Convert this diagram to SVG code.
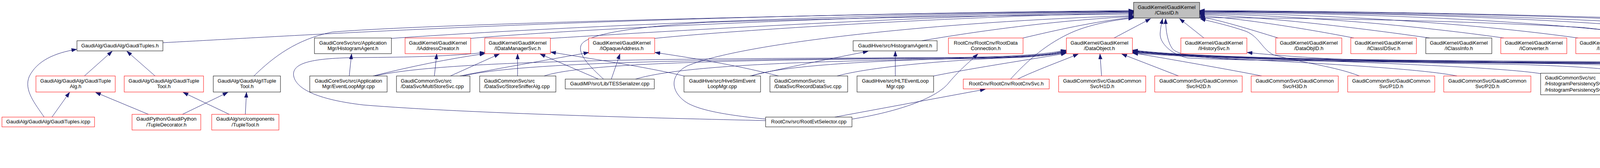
<svg xmlns="http://www.w3.org/2000/svg" width="5440" height="429" viewBox="0 0 5440 429">
<defs>
<marker id="ah" markerUnits="userSpaceOnUse" markerWidth="14" markerHeight="10" refX="13" refY="5" orient="auto"><path d="M0,0.5 L13,5 L0,9.5 Z" fill="#191970" stroke="#191970" stroke-width="1"/></marker>
</defs>
<style>
.e{fill:none;stroke:#191970;stroke-width:1;marker-end:url(#ah)}
.r{fill:#fff;stroke:#ff0000;stroke-width:1}
.k{fill:#fff;stroke:#000;stroke-width:1}
text{font-family:"Liberation Sans",Arial,Helvetica,sans-serif;font-size:13px;fill:#000}
.c{text-anchor:middle}
</style>
<rect width="5440" height="429" fill="#fff"/>
<g id="edges">
<path class="e" d="M417,109 C700,95 1500,40 2902,27"/>
<path class="e" d="M650,194 C700,145 760,100 850,82 C1100,60 2300,32 2902,28"/>
<path class="e" d="M1002,98 C1400,70 2200,34 2902,29"/>
<path class="e" d="M1205,98 C1500,72 2300,36 2902,30"/>
<path class="e" d="M1409,98 C1700,80 2400,38 2902,31"/>
<path class="e" d="M1676,98 C1900,75 2500,40 2902,33"/>
<path class="e" d="M1545,202 C1510,170 1480,140 1487,117 C1495,90 1600,70 1810,57 C2300,42 2700,38 2902,36"/>
<path class="e" d="M1960,304 C1880,296 1790,284 1755,260 C1715,232 1715,190 1760,168 C1900,110 2400,55 2902,40"/>
<path class="e" d="M2360,104 C2500,80 2700,52 2902,42"/>
<path class="e" d="M2619,97 C2700,78 2800,55 2902,44"/>
<path class="e" d="M2587,202 C2630,155 2680,110 2750,80 C2800,60 2860,50 2902,46"/>
<path class="e" d="M3272,97 C3200,75 3120,50 3071,43"/>
<path class="e" d="M3466,97 C3300,65 3150,45 3071,40"/>
<path class="e" d="M3660,97 C3400,60 3200,42 3071,37"/>
<path class="e" d="M3850,97 C3550,55 3250,38 3071,35"/>
<path class="e" d="M4040,97 C3700,50 3300,35 3071,33"/>
<path class="e" d="M4283,97 C3900,45 3400,33 3071,31"/>
<path class="e" d="M4475,97 C4100,45 3500,32 3071,30"/>
<path class="e" d="M4665,97 C4300,50 3600,31 3071,29"/>
<path class="e" d="M4857,97 C4500,50 3700,30 3071,28"/>
<path class="e" d="M5047,97 C4700,55 3800,30 3071,27"/>
<path class="e" d="M2852,97 L2945,48"/>
<path class="e" d="M3082,97 L3020,48"/>
<path class="e" d="M4923,194 C4880,180 4700,170 4400,165 C3800,158 3200,158 3040,148 C3000,140 2968,110 2970,85 C2971,70 2974,58 2976,48"/>
<path class="e" d="M4892,292 C4885,250 4870,200 4830,180 C4700,160 4000,158 3300,155 C3100,152 3020,145 3002,125 C2990,110 2984,80 2984,48"/>
<path class="e" d="M3480,194 C3420,170 3330,160 3260,140 C3230,125 3225,95 3190,80 C3140,63 3100,55 3073,48"/>
<path class="e" d="M4472,202 C4350,170 4265,150 4250,125 C4235,100 4200,85 4050,70 C3700,50 3300,46 3072,45"/>
<path class="e" d="M960,194 C1150,150 1800,150 2400,147 C2600,146 2680,138 2729,128"/>
<path class="e" d="M1185,194 C1350,155 1900,152 2400,148 C2600,147 2680,140 2729,131"/>
<path class="e" d="M1393,194 C1500,158 1950,153 2400,149 C2600,148 2680,141 2729,133"/>
<path class="e" d="M1627,202 C1750,165 2100,156 2450,150 C2620,148 2690,142 2729,134"/>
<path class="e" d="M1925,194 C2000,165 2300,152 2500,149 C2630,147 2690,139 2729,129"/>
<path class="e" d="M2143,194 C2250,165 2500,150 2600,147 C2660,145 2700,138 2729,132"/>
<path class="e" d="M2390,194 C2500,172 2650,150 2729,136"/>
<path class="e" d="M2605,202 C2650,180 2720,155 2760,138"/>
<path class="e" d="M2820,194 L2816,138"/>
<path class="e" d="M3017,194 L2872,138"/>
<path class="e" d="M3230,194 C3150,178 3000,152 2900,135"/>
<path class="e" d="M3730,194 C3600,168 3150,152 2900,136"/>
<path class="e" d="M3944,188 C3800,165 3200,152 2900,134"/>
<path class="e" d="M4233,202 C4180,180 4100,172 3900,165 C3500,158 3100,152 2900,133"/>
<path class="e" d="M4490,202 C4440,180 4300,170 4000,163 C3500,156 3100,152 2900,132"/>
<path class="e" d="M4710,202 C4650,180 4500,168 4100,162 C3600,156 3100,152 2900,131"/>
<path class="e" d="M4910,194 C4850,178 4600,168 4100,160 C3600,155 3100,152 2900,130"/>
<path class="e" d="M5120,194 C5050,175 4700,165 4200,158 C3600,154 3100,152 2900,129"/>
<path class="e" d="M5300,194 C5230,174 4900,170 4300,163 C3700,156 3100,152 2900,128"/>
<path class="e" d="M1960,308 C1700,302 1200,290 930,268 C820,255 760,230 752,195 C745,160 800,148 920,147 C1050,146 1150,144 1241,134"/>
<path class="e" d="M955,194 C1050,170 1150,150 1241,137"/>
<path class="e" d="M1177,194 C1300,170 1420,150 1507,134"/>
<path class="e" d="M1751,194 C1650,170 1500,148 1410,133"/>
<path class="e" d="M1993,194 C1900,170 1800,152 1677,134"/>
<path class="e" d="M1920,194 C2000,175 2150,145 2222,131"/>
<path class="e" d="M2292,194 L2292,131"/>
<path class="e" d="M894,194 L900,138"/>
<path class="e" d="M1112,194 L1118,138"/>
<path class="e" d="M1153,194 L1278,138"/>
<path class="e" d="M1325,194 L1325,138"/>
<path class="e" d="M1532,202 L1383,138"/>
<path class="e" d="M1565,202 L1587,138"/>
<path class="e" d="M2137,299 L2522,228"/>
<path class="e" d="M2182,304 C2300,285 2400,250 2430,210 C2460,175 2480,160 2503,138"/>
<path class="e" d="M216,194 L287,131"/>
<path class="e" d="M397,194 L325,131"/>
<path class="e" d="M113,299 C90,265 60,230 75,195 C95,155 140,135 196,126"/>
<path class="e" d="M133,299 L178,236"/>
<path class="e" d="M380,292 L245,236"/>
<path class="e" d="M587,292 L469,236"/>
<path class="e" d="M467,292 L583,236"/>
<path class="e" d="M628,292 L631,236"/>
<path class="e" d="M4913,292 L4963,236"/>
<path class="e" d="M4883,382 L4890,333"/>
<path class="e" d="M5022,382 L4937,333"/>
<path class="e" d="M5048,382 L4997,236"/>
<path class="e" d="M5068,382 L5162,236"/>
<path class="e" d="M5115,194 C5040,172 4600,165 3700,160 C3450,155 3300,145 3193,134"/>
<path class="e" d="M5307,194 C5230,172 4800,160 4450,152 C4330,148 4260,142 4203,134"/>
</g>
<g id="n_ClassID"><rect x="2902" y="6" width="169" height="40" fill="#bfbfbf" stroke="#000"/><text class="c" x="2986.5" y="22.5">GaudiKernel/GaudiKernel</text><text class="c" x="2986.5" y="37">/ClassID.h</text></g>
<g id="n_GaudiTuplesH"><rect class="k" x="197" y="104" width="220" height="26"/><text class="c" x="307" y="121">GaudiAlg/GaudiAlg/GaudiTuples.h</text></g>
<g id="n_AppMgrHistAgent"><rect class="k" x="805" y="97" width="197" height="40"/><text class="c" x="903.5" y="113.5">GaudiCoreSvc/src/Application</text><text class="c" x="903.5" y="128">Mgr/HistogramAgent.h</text></g>
<g id="n_IAddressCreator"><rect class="r" x="1037" y="97" width="168" height="40"/><text class="c" x="1121" y="113.5">GaudiKernel/GaudiKernel</text><text class="c" x="1121" y="128">/IAddressCreator.h</text></g>
<g id="n_IDataManagerSvc"><rect class="r" x="1241" y="97" width="168" height="40"/><text class="c" x="1325" y="113.5">GaudiKernel/GaudiKernel</text><text class="c" x="1325" y="128">/IDataManagerSvc.h</text></g>
<g id="n_IOpaqueAddress"><rect class="r" x="1507" y="97" width="169" height="40"/><text class="c" x="1591.5" y="113.5">GaudiKernel/GaudiKernel</text><text class="c" x="1591.5" y="128">/IOpaqueAddress.h</text></g>
<g id="n_HiveHistAgent"><rect class="k" x="2184" y="104" width="215" height="26"/><text class="c" x="2291.5" y="121">GaudiHive/src/HistogramAgent.h</text></g>
<g id="n_RootDataConnection"><rect class="r" x="2428" y="97" width="191" height="40"/><text class="c" x="2523.5" y="113.5">RootCnv/RootCnv/RootData</text><text class="c" x="2523.5" y="128">Connection.h</text></g>
<g id="n_DataObject"><rect class="r" x="2730" y="97" width="169" height="40"/><text class="c" x="2814.5" y="113.5">GaudiKernel/GaudiKernel</text><text class="c" x="2814.5" y="128">/DataObject.h</text></g>
<g id="n_IHistorySvc"><rect class="r" x="3023" y="97" width="169" height="40"/><text class="c" x="3107.5" y="113.5">GaudiKernel/GaudiKernel</text><text class="c" x="3107.5" y="128">/IHistorySvc.h</text></g>
<g id="n_DataObjID"><rect class="r" x="3266" y="97" width="169" height="40"/><text class="c" x="3350.5" y="113.5">GaudiKernel/GaudiKernel</text><text class="c" x="3350.5" y="128">/DataObjID.h</text></g>
<g id="n_IClassIDSvc"><rect class="r" x="3458" y="97" width="168" height="40"/><text class="c" x="3542" y="113.5">GaudiKernel/GaudiKernel</text><text class="c" x="3542" y="128">/IClassIDSvc.h</text></g>
<g id="n_IClassInfo"><rect class="k" x="3650" y="97" width="169" height="40"/><text class="c" x="3734.5" y="113.5">GaudiKernel/GaudiKernel</text><text class="c" x="3734.5" y="128">/IClassInfo.h</text></g>
<g id="n_IConverter"><rect class="r" x="3842" y="97" width="169" height="40"/><text class="c" x="3926.5" y="113.5">GaudiKernel/GaudiKernel</text><text class="c" x="3926.5" y="128">/IConverter.h</text></g>
<g id="n_IFileMgr"><rect class="r" x="4034" y="97" width="168" height="40"/><text class="c" x="4118" y="113.5">GaudiKernel/GaudiKernel</text><text class="c" x="4118" y="128">/IFileMgr.h</text></g>
<g id="n_INTupleSvc"><rect class="r" x="4277" y="97" width="168" height="40"/><text class="c" x="4361" y="113.5">GaudiKernel/GaudiKernel</text><text class="c" x="4361" y="128">/INTupleSvc.h</text></g>
<g id="n_KeyedObjectManager"><rect class="r" x="4469" y="97" width="168" height="40"/><text class="c" x="4553" y="113.5">GaudiKernel/GaudiKernel</text><text class="c" x="4553" y="128">/KeyedObjectManager.h</text></g>
<g id="n_ObjectList"><rect class="r" x="4661" y="97" width="168" height="40"/><text class="c" x="4745" y="113.5">GaudiKernel/GaudiKernel</text><text class="c" x="4745" y="128">/ObjectList.h</text></g>
<g id="n_ObjectVector"><rect class="r" x="4853" y="97" width="168" height="40"/><text class="c" x="4937" y="113.5">GaudiKernel/GaudiKernel</text><text class="c" x="4937" y="128">/ObjectVector.h</text></g>
<g id="n_SharedObjectsContainer"><rect class="k" x="5045" y="97" width="179" height="40"/><text class="c" x="5134.5" y="113.5">GaudiKernel/GaudiKernel</text><text class="c" x="5134.5" y="128">/SharedObjectsContainer.h</text></g>
<g id="n_GaudiTupleAlg"><rect class="r" x="92" y="194" width="203" height="41"/><text class="c" x="193.5" y="210.5">GaudiAlg/GaudiAlg/GaudiTuple</text><text class="c" x="193.5" y="225">Alg.h</text></g>
<g id="n_GaudiTupleTool"><rect class="r" x="318" y="194" width="203" height="41"/><text class="c" x="419.5" y="210.5">GaudiAlg/GaudiAlg/GaudiTuple</text><text class="c" x="419.5" y="225">Tool.h</text></g>
<g id="n_ITupleTool"><rect class="k" x="546" y="194" width="172" height="41"/><text class="c" x="632" y="210.5">GaudiAlg/GaudiAlg/ITuple</text><text class="c" x="632" y="225">Tool.h</text></g>
<g id="n_EventLoopMgr"><rect class="k" x="793" y="194" width="198" height="41"/><text class="c" x="892" y="210.5">GaudiCoreSvc/src/Application</text><text class="c" x="892" y="225">Mgr/EventLoopMgr.cpp</text></g>
<g id="n_MultiStoreSvc"><rect class="k" x="1015" y="194" width="188" height="41"/><text x="1026" y="210.5">GaudiCommonSvc/src</text><text x="1026" y="225">/DataSvc/MultiStoreSvc.cpp</text></g>
<g id="n_StoreSnifferAlg"><rect class="k" x="1228" y="194" width="195" height="41"/><text x="1239" y="210.5">GaudiCommonSvc/src</text><text x="1239" y="225">/DataSvc/StoreSnifferAlg.cpp</text></g>
<g id="n_TESSerializer"><rect class="k" x="1447" y="202" width="228" height="25"/><text class="c" x="1561" y="218">GaudiMP/src/Lib/TESSerializer.cpp</text></g>
<g id="n_HiveSlim"><rect class="k" x="1751" y="194" width="196" height="41"/><text class="c" x="1849" y="210.5">GaudiHive/src/HiveSlimEvent</text><text class="c" x="1849" y="225">LoopMgr.cpp</text></g>
<g id="n_RecordDataSvc"><rect class="k" x="1971" y="194" width="199" height="41"/><text x="1982" y="210.5">GaudiCommonSvc/src</text><text x="1982" y="225">/DataSvc/RecordDataSvc.cpp</text></g>
<g id="n_HLTEventLoopMgr"><rect class="k" x="2194" y="194" width="196" height="41"/><text class="c" x="2292" y="210.5">GaudiHive/src/HLTEventLoop</text><text class="c" x="2292" y="225">Mgr.cpp</text></g>
<g id="n_RootCnvSvc"><rect class="r" x="2466" y="202" width="220" height="25"/><text class="c" x="2576" y="218">RootCnv/RootCnv/RootCnvSvc.h</text></g>
<g id="n_H1D"><rect class="r" x="2710" y="194" width="223" height="41"/><text class="c" x="2821.5" y="210.5">GaudiCommonSvc/GaudiCommon</text><text class="c" x="2821.5" y="225">Svc/H1D.h</text></g>
<g id="n_H2D"><rect class="r" x="2956" y="194" width="224" height="41"/><text class="c" x="3068" y="210.5">GaudiCommonSvc/GaudiCommon</text><text class="c" x="3068" y="225">Svc/H2D.h</text></g>
<g id="n_H3D"><rect class="r" x="3203" y="194" width="223" height="41"/><text class="c" x="3314.5" y="210.5">GaudiCommonSvc/GaudiCommon</text><text class="c" x="3314.5" y="225">Svc/H3D.h</text></g>
<g id="n_P1D"><rect class="r" x="3450" y="194" width="223" height="41"/><text class="c" x="3561.5" y="210.5">GaudiCommonSvc/GaudiCommon</text><text class="c" x="3561.5" y="225">Svc/P1D.h</text></g>
<g id="n_P2D"><rect class="r" x="3696" y="194" width="223" height="41"/><text class="c" x="3807.5" y="210.5">GaudiCommonSvc/GaudiCommon</text><text class="c" x="3807.5" y="225">Svc/P2D.h</text></g>
<g id="n_HistPersistency"><rect class="k" x="3944" y="187" width="203" height="55"/><text x="3955" y="203">GaudiCommonSvc/src</text><text x="3955" y="218">/HistogramPersistencySvc</text><text x="3955" y="233.5">/HistogramPersistencySvc.cpp</text></g>
<g id="n_GaudiTool"><rect class="r" x="4171" y="202" width="207" height="25"/><text class="c" x="4274.5" y="218">GaudiAlg/GaudiAlg/GaudiTool.h</text></g>
<g id="n_GaudiAlgorithm"><rect class="k" x="4402" y="202" width="233" height="25"/><text class="c" x="4518.5" y="218">GaudiAlg/src/lib/GaudiAlgorithm.cpp</text></g>
<g id="n_Print"><rect class="k" x="4658" y="202" width="171" height="25"/><text class="c" x="4743.5" y="218">GaudiAlg/src/lib/Print.cpp</text></g>
<g id="n_HistoryObj"><rect class="r" x="4904" y="194" width="168" height="41"/><text class="c" x="4988" y="210.5">GaudiKernel/GaudiKernel</text><text class="c" x="4988" y="225">/HistoryObj.h</text></g>
<g id="n_HistorySvcH"><rect class="k" x="5096" y="194" width="167" height="41"/><text class="c" x="5179.5" y="210.5">GaudiMonitor/src/History</text><text class="c" x="5179.5" y="225">Svc.h</text></g>
<g id="n_FileMgrH"><rect class="r" x="5287" y="194" width="148" height="41"/><text class="c" x="5361" y="210.5">GaudiSvc/src/FileMgr</text><text class="c" x="5361" y="225">/FileMgr.h</text></g>
<g id="n_GaudiTuplesIcpp"><rect class="r" x="5" y="299" width="237" height="25"/><text class="c" x="123.5" y="315">GaudiAlg/GaudiAlg/GaudiTuples.icpp</text></g>
<g id="n_TupleDecorator"><rect class="r" x="338" y="292" width="176" height="40"/><text class="c" x="426" y="308">GaudiPython/GaudiPython</text><text class="c" x="426" y="323">/TupleDecorator.h</text></g>
<g id="n_TupleTool"><rect class="r" x="542" y="292" width="172" height="40"/><text class="c" x="628" y="308">GaudiAlg/src/components</text><text class="c" x="628" y="323">/TupleTool.h</text></g>
<g id="n_RootEvtSelector"><rect class="k" x="1960" y="299" width="221" height="25"/><text class="c" x="2070.5" y="315">RootCnv/src/RootEvtSelector.cpp</text></g>
<g id="n_DataHistoryH"><rect class="k" x="4810" y="292" width="169" height="40"/><text class="c" x="4894.5" y="308">GaudiKernel/GaudiKernel</text><text class="c" x="4894.5" y="323">/DataHistory.h</text></g>
<g id="n_DataHistoryCpp"><rect class="k" x="4812" y="382" width="136" height="41"/><text class="c" x="4880" y="399">GaudiKernel/src/Lib</text><text class="c" x="4880" y="413">/DataHistory.cpp</text></g>
<g id="n_HistorySvcCpp"><rect class="k" x="4972" y="382" width="167" height="41"/><text class="c" x="5055.5" y="399">GaudiMonitor/src/History</text><text class="c" x="5055.5" y="413">Svc.cpp</text></g>
</svg>
